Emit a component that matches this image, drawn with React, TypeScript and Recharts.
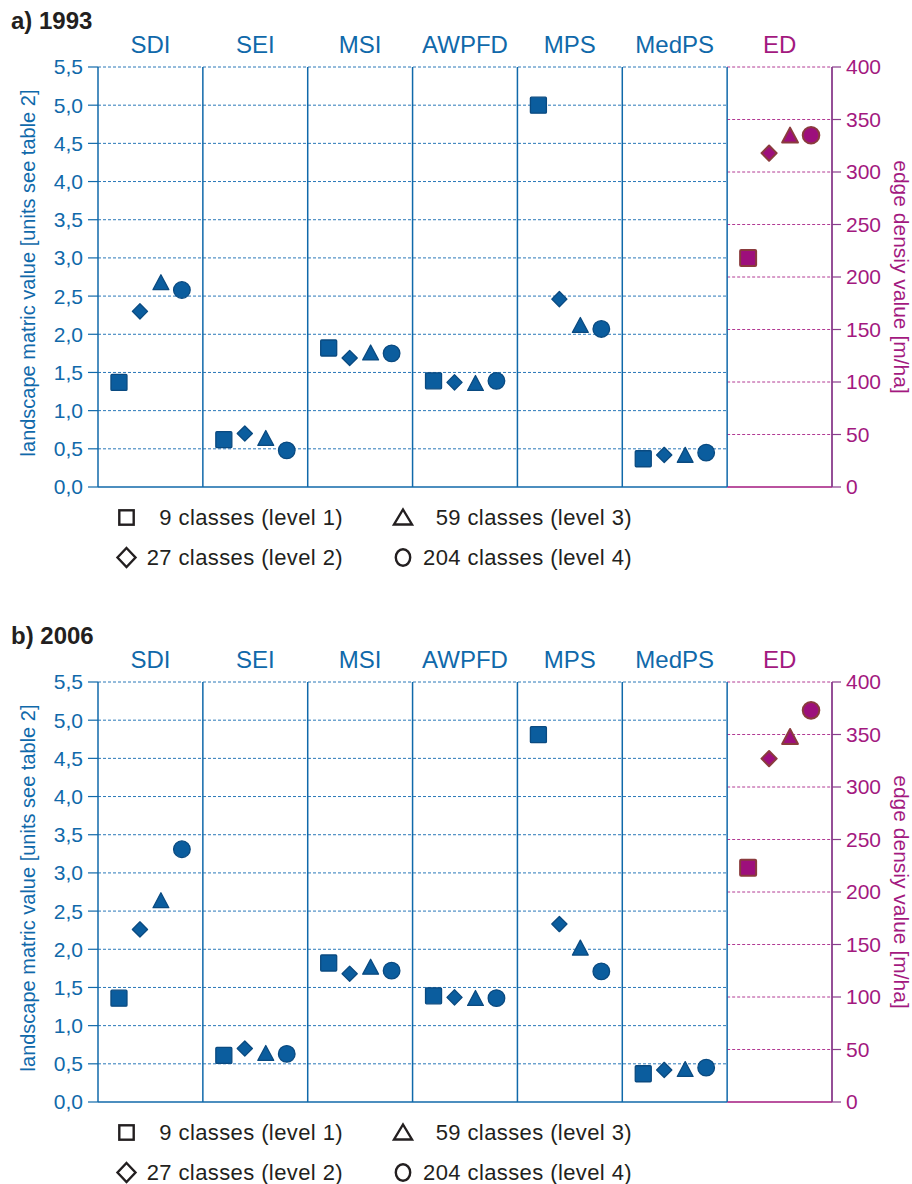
import React from 'react';
import { ScatterChart, Scatter, XAxis, YAxis, ReferenceLine } from 'recharts';

// categories along the x axis, ED is read on the right axis
const categories = ['SDI', 'SEI', 'MSI', 'AWPFD', 'MPS', 'MedPS', 'ED'];
const leftTicks = [0, 0.5, 1, 1.5, 2, 2.5, 3, 3.5, 4, 4.5, 5, 5.5];
const rightTicks = [0, 50, 100, 150, 200, 250, 300, 350, 400];
const levelLabels = ['9 classes (level 1)', '27 classes (level 2)', '59 classes (level 3)', '204 classes (level 4)'];

// 1993 values, one entry per category (last one = ED in m/ha)
const level1_1993 = [1.37, 0.62, 1.82, 1.39, 5.0, 0.37, 218];
const level2_1993 = [2.3, 0.7, 1.69, 1.37, 2.46, 0.42, 318];
const level3_1993 = [2.68, 0.64, 1.76, 1.36, 2.12, 0.42, 335];
const level4_1993 = [2.58, 0.48, 1.75, 1.39, 2.07, 0.45, 335];

// 2006 values
const level1_2006 = [1.36, 0.61, 1.82, 1.39, 4.81, 0.37, 223];
const level2_2006 = [2.26, 0.7, 1.68, 1.37, 2.33, 0.42, 327];
const level3_2006 = [2.64, 0.64, 1.77, 1.36, 2.02, 0.43, 348];
const level4_2006 = [3.31, 0.63, 1.72, 1.36, 1.71, 0.45, 373];

const BLUE = '#1069aa';
const GRID_BLUE = '#2a78b8';
const MAGENTA = '#a3197f';
const GRID_MAGENTA = '#b23a94';
const PURPLE = '#8a3c8c';
const MARK_BLUE = '#0b5d9e';
const MARK_BLUE_EDGE = '#0a4a80';
const MARK_ED = '#9d0f7c';
const MARK_ED_EDGE = '#8a3b3d';
const INK = '#231f20';

type Kind = 'square' | 'diamond' | 'triangle' | 'circle';
const kinds: Kind[] = ['square', 'diamond', 'triangle', 'circle'];

const Marker = ({ cx, cy, kind, fill, stroke, sw }: { cx: number; cy: number; kind: Kind; fill: string; stroke: string; sw: number }) => {
  if (cx == null || cy == null) return null;
  if (kind === 'square') {
    return <rect x={cx - 8} y={cy - 8} width={16} height={16} rx={1} fill={fill} stroke={stroke} strokeWidth={sw} />;
  }
  if (kind === 'diamond') {
    return (
      <polygon
        points={`${cx},${cy - 7.6} ${cx + 7.6},${cy} ${cx},${cy + 7.6} ${cx - 7.6},${cy}`}
        fill={fill}
        stroke={stroke}
        strokeWidth={sw}
        strokeLinejoin="round"
      />
    );
  }
  if (kind === 'triangle') {
    return (
      <polygon
        points={`${cx},${cy - 7.6} ${cx + 7.9},${cy + 7.3} ${cx - 7.9},${cy + 7.3}`}
        fill={fill}
        stroke={stroke}
        strokeWidth={sw}
        strokeLinejoin="round"
      />
    );
  }
  return <circle cx={cx} cy={cy} r={8.3} fill={fill} stroke={stroke} strokeWidth={sw} />;
};

const shapeFor = (kind: Kind, fill: string, stroke: string, sw: number) => (p: any) =>
  <Marker cx={p.cx} cy={p.cy} kind={kind} fill={fill} stroke={stroke} sw={sw} />;

const CategoryTick = (props: any) => {
  const { x, y, payload } = props;
  const idx = Math.floor(payload.value);
  return (
    <text x={x} y={y} dy={-14} textAnchor="middle" fill={idx === 6 ? MAGENTA : BLUE} fontSize={24}>
      {categories[idx]}
    </text>
  );
};

const leftTitle = (p: any) => {
  const vb = p.viewBox || { x: 8, y: 67, width: 90, height: 420 };
  const x = vb.x + 20;
  const y = vb.y + vb.height / 2 - 4;
  return (
    <text x={x} y={y} transform={`rotate(-90 ${x} ${y})`} textAnchor="middle" dominantBaseline="central" fill={BLUE} fontSize={20}>
      landscape matric value [units see table 2]
    </text>
  );
};

const rightTitle = (p: any) => {
  const vb = p.viewBox || { x: 832, y: 67, width: 72, height: 420 };
  const x = vb.x + 69;
  const y = vb.y + vb.height / 2;
  return (
    <text x={x} y={y} transform={`rotate(90 ${x} ${y})`} textAnchor="middle" dominantBaseline="central" fill={MAGENTA} fontSize={21}>
      edge densiy value [m/ha]
    </text>
  );
};

const LegendIcon = ({ kind, cx, cy }: { kind: Kind; cx: number; cy: number }) => {
  const p = { fill: 'none', stroke: INK, strokeWidth: 2.4 };
  if (kind === 'square') return <rect x={cx - 7.2} y={cy - 7.2} width={14.4} height={14.4} {...p} />;
  if (kind === 'diamond') return <polygon points={`${cx},${cy - 9.5} ${cx + 9},${cy} ${cx},${cy + 9.5} ${cx - 9},${cy}`} {...p} />;
  if (kind === 'triangle') return <polygon points={`${cx},${cy - 8} ${cx + 9},${cy + 7} ${cx - 9},${cy + 7}`} {...p} />;
  return <ellipse cx={cx} cy={cy} rx={7.2} ry={8.3} {...p} />;
};

const LegendBlock = () => {
  // two columns, two rows: level1 / level3 on top, level2 / level4 below
  const cells = [
    { level: 0, col: 0, row: 0 },
    { level: 2, col: 1, row: 0 },
    { level: 1, col: 0, row: 1 },
    { level: 3, col: 1, row: 1 },
  ];
  const iconX = [126.5, 403];
  const textEnd = [343, 632];
  const rowY = [27.5, 67.5];
  return (
    <svg width={912} height={90} style={{ position: 'absolute', left: 0, top: 490 }}>
      {cells.map((c) => (
        <g key={c.level}>
          <LegendIcon kind={kinds[c.level]} cx={iconX[c.col]} cy={rowY[c.row]} />
          <text x={textEnd[c.col]} y={rowY[c.row] + 7.5} textAnchor="end" fill={INK} fontSize={22} letterSpacing={0.4}>
            {levelLabels[c.level]}
          </text>
        </g>
      ))}
    </svg>
  );
};

const Panel = ({ title, top, levels }: { title: string; top: number; levels: number[][] }) => {
  const series = levels.map((values, li) => {
    const offset = (li + 1) / 5;
    return {
      kind: kinds[li],
      blue: values.slice(0, 6).map((v, i) => ({ x: i + offset, y: v, name: categories[i] })),
      ed: [{ x: 6 + offset, y: values[6], name: categories[6] }],
    };
  });
  const catTicks = categories.map((_, i) => i + 0.5);
  const dividers = categories.slice(1).map((_, i) => i + 1);

  return (
    <div style={{ position: 'absolute', left: 0, top, width: 912, height: 580 }}>
      <div style={{ position: 'absolute', left: 11, top: 6, fontSize: 24, fontWeight: 'bold', color: INK, lineHeight: '30px' }}>
        {title}
      </div>
      <ScatterChart width={912} height={500} margin={{ top: 27, right: 8, bottom: 13, left: 8 }}>
        <XAxis
          xAxisId="x"
          type="number"
          dataKey="x"
          orientation="top"
          domain={[0, 7]}
          ticks={catTicks}
          interval={0}
          axisLine={false}
          tickLine={false}
          tickSize={0}
          tickMargin={0}
          height={40}
          tick={<CategoryTick />}
          allowDataOverflow
        />
        <YAxis
          yAxisId="l"
          type="number"
          dataKey="y"
          domain={[0, 5.5]}
          ticks={leftTicks}
          interval={0}
          width={90}
          tickSize={10}
          tickMargin={5}
          tickFormatter={(v: number) => v.toFixed(1).replace('.', ',')}
          axisLine={{ stroke: BLUE, strokeWidth: 1.5 }}
          tickLine={{ stroke: BLUE, strokeWidth: 1.2 }}
          tick={{ fill: BLUE, fontSize: 21 }}
          label={{ content: leftTitle }}
          allowDataOverflow
        />
        <YAxis
          yAxisId="r"
          type="number"
          dataKey="y"
          orientation="right"
          domain={[0, 400]}
          ticks={rightTicks}
          interval={0}
          width={72}
          tickSize={9}
          tickMargin={5}
          axisLine={{ stroke: PURPLE, strokeWidth: 1.8 }}
          tickLine={{ stroke: PURPLE, strokeWidth: 1.2 }}
          tick={{ fill: MAGENTA, fontSize: 21, textAnchor: 'start' }}
          label={{ content: rightTitle }}
          allowDataOverflow
        />

        {leftTicks.map((v) => (
          <ReferenceLine
            key={`gl${v}`}
            xAxisId="x"
            yAxisId="l"
            segment={[{ x: 0, y: v }, { x: 6, y: v }]}
            stroke={v === 0 ? BLUE : GRID_BLUE}
            strokeWidth={v === 0 ? 1.6 : 1}
            strokeDasharray={v === 0 ? undefined : '3 2'}
            ifOverflow="visible"
          />
        ))}
        {rightTicks.map((v) => (
          <ReferenceLine
            key={`gr${v}`}
            xAxisId="x"
            yAxisId="r"
            segment={[{ x: 6, y: v }, { x: 7, y: v }]}
            stroke={v === 0 ? MAGENTA : GRID_MAGENTA}
            strokeWidth={v === 0 ? 1.6 : 1}
            strokeDasharray={v === 0 ? undefined : '3 2'}
            ifOverflow="visible"
          />
        ))}
        {dividers.map((d) => (
          <ReferenceLine key={`d${d}`} xAxisId="x" yAxisId="l" x={d} stroke={BLUE} strokeWidth={1.5} ifOverflow="visible" />
        ))}

        {series.map((s) => (
          <Scatter
            key={`b${s.kind}`}
            name={s.kind}
            data={s.blue}
            xAxisId="x"
            yAxisId="l"
            shape={shapeFor(s.kind, MARK_BLUE, MARK_BLUE_EDGE, 1.3)}
            isAnimationActive={false}
          />
        ))}
        {series.map((s) => (
          <Scatter
            key={`e${s.kind}`}
            name={`ED ${s.kind}`}
            data={s.ed}
            xAxisId="x"
            yAxisId="r"
            shape={shapeFor(s.kind, MARK_ED, MARK_ED_EDGE, 2)}
            isAnimationActive={false}
          />
        ))}
      </ScatterChart>
      <LegendBlock />
    </div>
  );
};

export default function App() {
  return (
    <div
      style={{
        position: 'absolute',
        left: 0,
        top: 0,
        width: 912,
        height: 1184,
        background: '#fff',
        fontFamily: '"Liberation Sans", Arial, Helvetica, sans-serif',
      }}
    >
      <Panel title="a) 1993" top={0} levels={[level1_1993, level2_1993, level3_1993, level4_1993]} />
      <Panel title="b) 2006" top={615} levels={[level1_2006, level2_2006, level3_2006, level4_2006]} />
    </div>
  );
}
